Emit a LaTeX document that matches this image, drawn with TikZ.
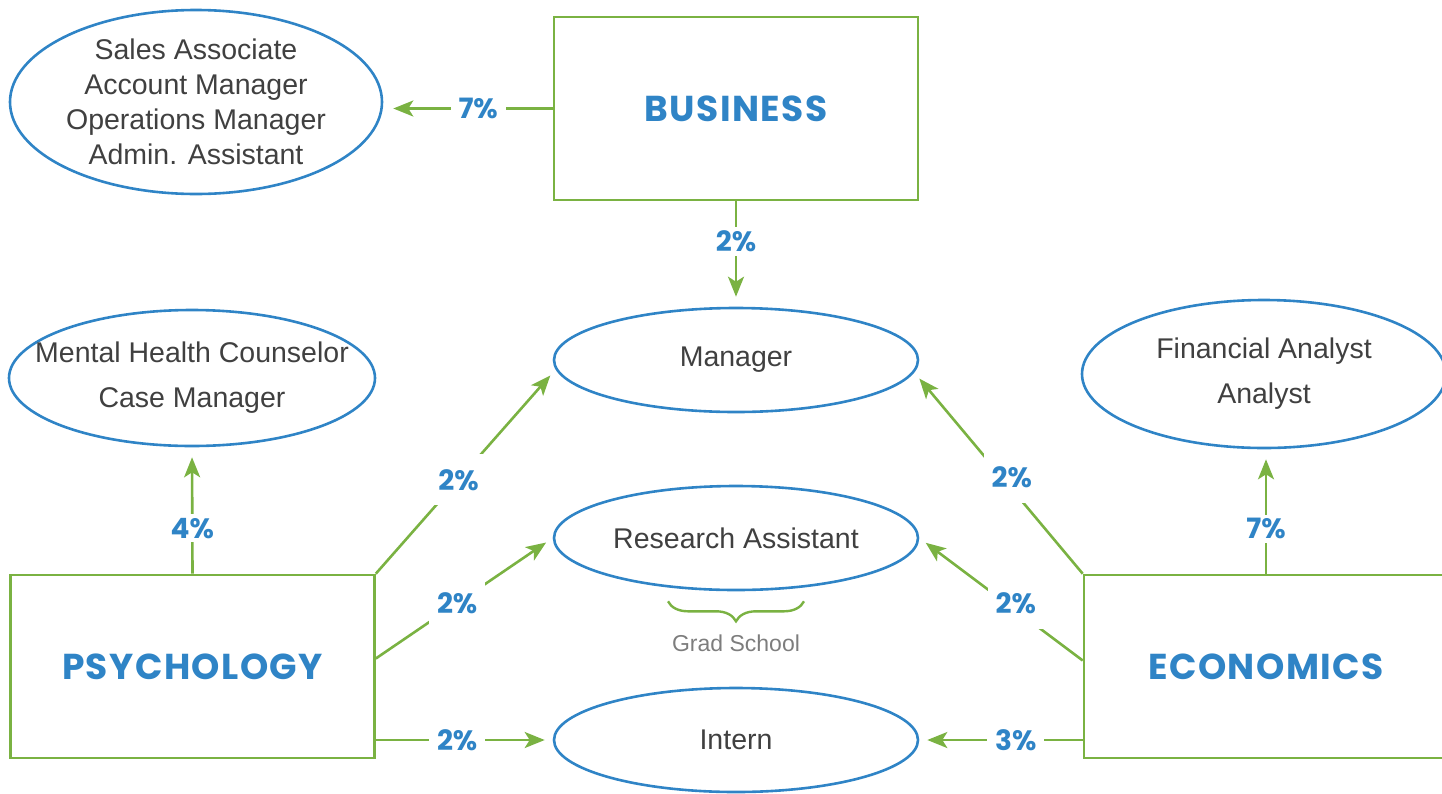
\documentclass[tikz,border=0pt]{standalone}
\usepackage{fontspec}
\setmainfont{Liberation Sans}
\newfontfamily\headfont[LetterSpace=4]{Poppins}
\newfontfamily\pctfont{Poppins}
\usetikzlibrary{shapes.geometric,arrows.meta,decorations.pathreplacing}
\definecolor{grn}{RGB}{122,178,66}
\definecolor{blu}{RGB}{47,132,198}
\definecolor{txt}{RGB}{64,64,64}
\definecolor{gry}{RGB}{125,125,125}
\begin{document}
\begin{tikzpicture}[x=1pt,y=-1pt,
  dept/.style={draw=grn, line width=2.6pt, minimum width=364pt, minimum height=183pt,
    inner sep=0pt, text=blu, font=\headfont\bfseries\fontsize{36}{40}\selectfont},
  job/.style={ellipse, draw=blu, line width=2.6pt, inner xsep=-70pt, inner ysep=-20pt,
    text=txt, align=center, font=\fontsize{28.5}{35}\selectfont},
  link/.style={draw=grn, line width=2.6pt},
  arr/.style={link, -{Stealth[length=20pt,width=16pt,inset=5pt]}, shorten >=8pt},
  pct/.style={fill=white, text=blu, inner xsep=8pt, inner ysep=4pt,
    font=\pctfont\bfseries\fontsize{28}{30}\selectfont},
  diag/.style={pct, inner ysep=15pt},
]
\useasboundingbox (0,0) rectangle (1442,793);
\clip (0,0) rectangle (1442,793);

% departments
\node[dept] (business) at (736,108.5) {BUSINESS};
\node[dept] (psych) at (192.5,666.5) {PSYCHOLOGY};
\node[dept] (econ) at (1266,666.5) {ECONOMICS};

% job titles
\node[job, minimum width=372pt, minimum height=184pt] (sales) at (196,102)
  {Sales Associate\\Account Manager\\Operations Manager\\Admin. Assistant};
\node[job, minimum width=366pt, minimum height=136pt, font=\fontsize{28.5}{45}\selectfont]
  (mental) at (192,378) {Mental Health Counselor\\Case Manager};
\node[job, minimum width=364pt, minimum height=148pt, font=\fontsize{28.5}{45}\selectfont]
  (financial) at (1264,374) {Financial Analyst\\Analyst};
\node[job, minimum width=364pt, minimum height=104pt] (manager) at (736,360) {Manager};
\node[job, minimum width=364pt, minimum height=104pt] (research) at (736,538) {Research Assistant};
\node[job, minimum width=364pt, minimum height=104pt] (intern) at (736,740) {Intern};

% business
\draw[arr, shorten >=10pt] (business.west) -- (sales.east |- business.west)
  node[pct, pos=0.44] {7\%};
\draw[arr, shorten >=10pt] (business.south) -- (manager.north)
  node[pct, pos=0.38] {2\%};

% psychology
\draw[arr, shorten >=10pt] (psych.north) -- (mental.south)
  node[pct, pos=0.36] {4\%};
\draw[arr] (psych.north east) -- (manager.183.6)
  node[diag, pos=0.46] {2\%};
\draw[arr] ([yshift=8pt]psych.east) -- (research.west)
  node[diag, pos=0.46] {2\%};
\draw[arr] (psych.east |- intern.west) -- (intern.west)
  node[pct, pos=0.46] {2\%};

% economics
\draw[arr, shorten >=10pt] (econ.north) -- (financial.south -| econ.north)
  node[pct, pos=0.36] {7\%};
\draw[arr] (econ.north west) -- (manager.356.5)
  node[diag, pos=0.48, xshift=10pt] {2\%};
\draw[arr] ([yshift=6pt]econ.west) -- (research.east)
  node[diag, pos=0.47, xshift=10pt] {2\%};
\draw[arr] (econ.west |- intern.east) -- (intern.east)
  node[pct, pos=0.41] {3\%};

% grad school brace
\coordinate (bl) at ([xshift=-68pt,yshift=-10pt]research.south);
\coordinate (br) at ([xshift=68pt,yshift=-10pt]research.south);
\draw[grn, line width=2.4pt, decorate, decoration={brace, mirror, amplitude=20pt}] (bl) -- (br);
\node[text=gry, font=\fontsize{23}{26}\selectfont] (grad) at (736,643) {Grad School};
\end{tikzpicture}
\end{document}
